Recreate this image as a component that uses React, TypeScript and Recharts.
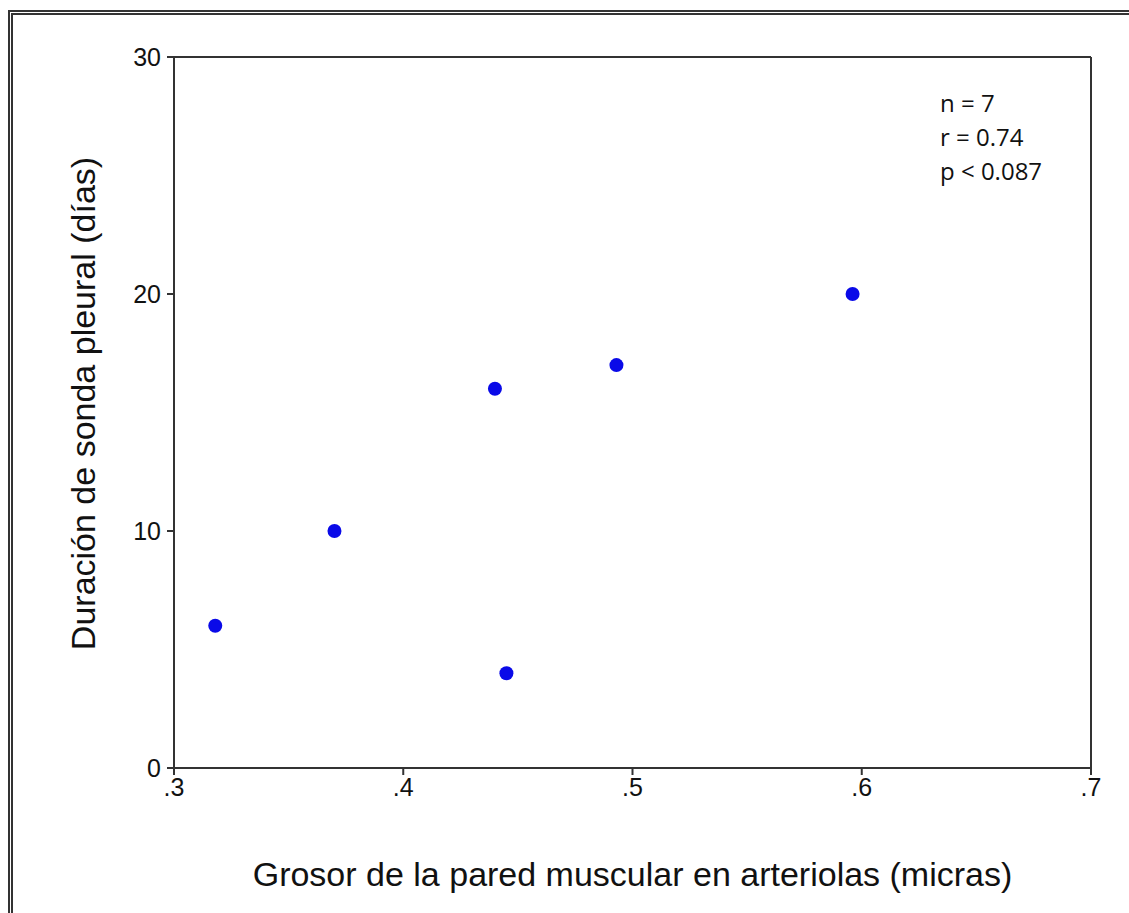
import { ScatterChart, Scatter, XAxis, YAxis, ReferenceLine } from 'recharts';

const grosor = [0.318, 0.37, 0.44, 0.445, 0.493, 0.596];
const duracion = [6, 10, 16, 4, 17, 20];
const xTicks = [0.3, 0.4, 0.5, 0.6, 0.7];
const yTicks = [0, 10, 20, 30];
const stats = ['n = 7', 'r = 0.74', 'p < 0.087'];

const points = grosor.map((x, i) => ({ x, y: duracion[i] }));

const AXIS = '#333';
const FONT = 'Arial, "Liberation Sans", sans-serif';

const fmtX = (v: number) => v.toFixed(1).replace(/^0/, '');

export default function App() {
  return (
    <div
      style={{
        position: 'absolute',
        left: 0,
        top: 0,
        width: 1129,
        height: 913,
        overflow: 'hidden',
        background: '#fff',
      }}
    >
      <div
        style={{
          position: 'absolute',
          left: 8,
          top: 10,
          width: 1200,
          height: 1000,
          border: '5px double #333',
        }}
      />
      <div style={{ position: 'absolute', left: 0, top: 0 }}>
        <ScatterChart
          width={1129}
          height={913}
          margin={{ top: 57, right: 38, bottom: 115, left: 114 }}
        >
          <XAxis
            type="number"
            dataKey="x"
            domain={[0.3, 0.7]}
            ticks={xTicks}
            tickFormatter={fmtX}
            height={30}
            stroke={AXIS}
            strokeWidth={2}
            tickSize={7}
            tickMargin={3}
            tick={{ fontSize: 25, fill: '#111', fontFamily: FONT }}
            label={{
              value: 'Grosor de la pared muscular en arteriolas (micras)',
              position: 'insideBottom',
              offset: -88,
              fontSize: 34,
              fill: '#111',
              fontFamily: FONT,
            }}
          />
          <YAxis
            type="number"
            dataKey="y"
            domain={[0, 30]}
            ticks={yTicks}
            width={60}
            stroke={AXIS}
            strokeWidth={2}
            tickSize={7}
            tickMargin={6}
            tick={{ fontSize: 25, fill: '#111', fontFamily: FONT }}
            label={{
              value: 'Duración de sonda pleural (días)',
              angle: -90,
              position: 'center',
              dx: -61,
              dy: -9,
              fontSize: 34,
              fill: '#111',
              fontFamily: FONT,
            }}
          />
          <ReferenceLine y={30} stroke={AXIS} strokeWidth={2} />
          <ReferenceLine x={0.7} stroke={AXIS} strokeWidth={2} />
          <Scatter
            data={points}
            fill="#0a0ae8"
            isAnimationActive={false}
            shape={(p: any) => <circle cx={p.cx} cy={p.cy} r={7} fill="#0a0ae8" />}
          />
        </ScatterChart>
      </div>
      {stats.map((s, i) => (
        <div
          key={s}
          style={{
            position: 'absolute',
            left: 940,
            top: 90 + i * 34,
            fontSize: 24,
            fontFamily: '"Open Sans", "Noto Sans", sans-serif',
            color: '#111',
            lineHeight: '26px',
          }}
        >
          {s}
        </div>
      ))}
    </div>
  );
}
